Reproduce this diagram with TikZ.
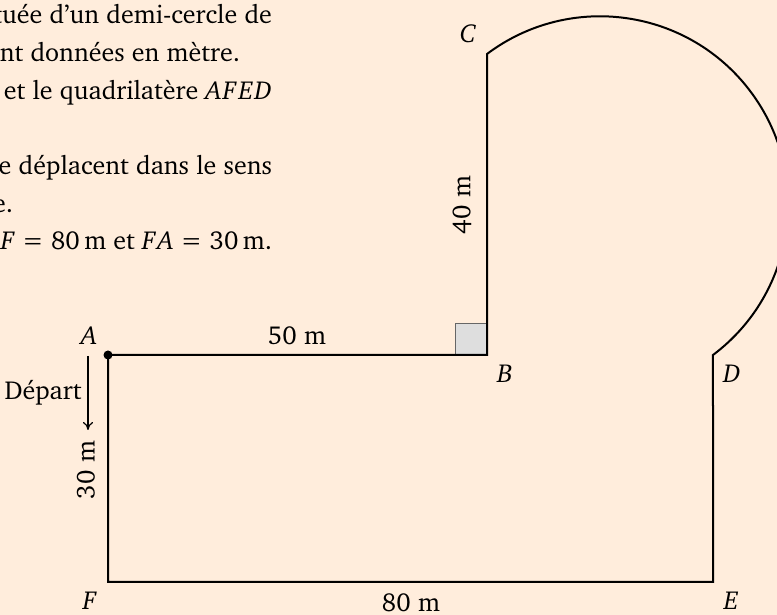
\documentclass[tikz,border=0pt]{standalone}
\usepackage[T1]{fontenc}
\usepackage{charter}
\usetikzlibrary{arrows.meta}
\definecolor{bgpeach}{RGB}{255,237,220}
\newcommand{\mvar}[1]{\textit{#1}\kern0.8pt}
\begin{document}
\begin{tikzpicture}[x=0.5pt,y=0.5pt,
  every node/.style={inner sep=0pt,outer sep=0pt,font=\fontsize{13}{19}\selectfont},
  txt/.style={anchor=base east},
  lbl/.style={anchor=base},
  edge/.style={line width=1pt,line join=miter},
  ptdot/.style={circle,fill=black,minimum size=4.5pt},
  rightangle/.style={fill=black!13,draw=black!60,line width=0.5pt}]
\useasboundingbox (0,0) rectangle (777,615);
\fill[bgpeach] (0,0) rectangle (777,615);
\clip (0,0) rectangle (777,615);
% text (cut at left)
\node[txt] (t1) at (272,591) {constitu\'ee d'un demi-cercle de};
\node[txt] (t2) at (240,553.3) {Les longueurs sont donn\'ees en m\`etre.};
\node[txt] (t3) at (272,515.6) {Le triangle \textit{BCD} et le quadrilat\`ere \mvar{A}\mvar{F}\mvar{E}\textit{D}};
\node[txt] (t5) at (272,440.2) {Les coureurs se d\'eplacent dans le sens};
\node[txt] (t6) at (13,402.5) {de la fl\`eche.};
\node[txt] (t7) at (272,365) {\mvar{A}\textit{B}\;=\;50\,m, \mvar{E}\textit{F}\;=\;80\,m et \mvar{F}\textit{A}\;=\;30\,m.};
% points
\coordinate (A) at (108,260);
\coordinate (B) at (487,260);
\coordinate (C) at (487,561);
\coordinate (D) at (713,260);
\coordinate (E) at (713,33);
\coordinate (F) at (108,33);
% right angle at B
\draw[rightangle] (455,260) rectangle (487,291);
% outline
\draw[edge] (A) -- (B) -- (C) arc[start angle=126.9,end angle=-53.1,radius=188.2] -- (E) -- (F) -- cycle;
\node[ptdot] (Adot) at (A) {};
% labels
\node[lbl] (lA) at (89,270) {\textit{A}};
\node[lbl] (lB) at (505,232) {\textit{B}};
\node[lbl] (lC) at (468,572) {\textit{C}};
\node[lbl] (lD) at (732,232) {\textit{D}};
\node[lbl] (lE) at (731,5) {\textit{E}};
\node[lbl] (lF) at (90,5) {\textit{F}};
\node[lbl] (l50) at (297,270) {50 m};
\node[lbl] (l80) at (411,3) {80 m};
\node[rotate=90] (l30) at (86,145) {30 m};
\node[rotate=90] (l40) at (462,410) {40 m};
\node[lbl] (dep) at (43,215) {D\'epart};
\coordinate (ar1) at (88,259);
\coordinate (ar2) at (88,185);
\draw[-{To[length=4pt,width=5pt]},line width=0.6pt] (ar1) -- (ar2);
\end{tikzpicture}
\end{document}
